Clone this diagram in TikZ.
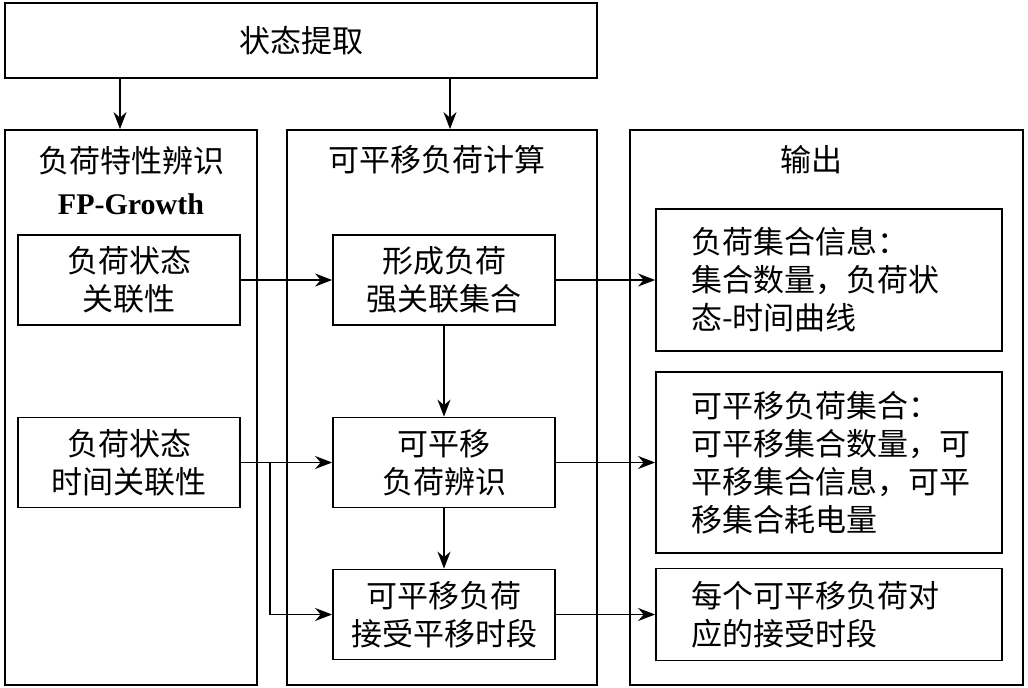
\documentclass[tikz,border=0pt]{standalone}
\usepackage{fontspec}
\setmainfont{Noto Sans CJK SC}
\newfontfamily\latinfont{Liberation Serif}
\usetikzlibrary{arrows.meta,positioning}

\begin{document}
\begin{tikzpicture}[>={Stealth[length=17pt,width=13pt]},x=1pt,y=-1pt,line width=1.8pt,
 every node/.style={font=\fontsize{31pt}{38pt}\selectfont},
 panel/.style={draw,minimum width=#1,minimum height=555pt,inner sep=0pt},
 box/.style={draw,minimum width=222pt,minimum height=90pt,align=center,inner sep=0pt},
 outbox/.style={draw,minimum width=346pt,minimum height=#1,text width=276pt,align=left,inner sep=0pt}]
\useasboundingbox (0,0) rectangle (1028,688);
\node[draw,minimum width=592pt,minimum height=75pt] (extract) at (301,40.5) {状态提取\hspace{22pt}};
\node[panel=252pt] (featpanel) at (131,407.5) {};
\node[panel=310pt] (calcpanel) at (442,407.5) {};
\node[panel=393pt] (outpanel) at (826.5,407.5) {};
\node[align=center] (feattitle) at (131,181) {负荷特性辨识\\[4pt]{\latinfont\bfseries\fontsize{30pt}{36pt}\selectfont FP-Growth}};
\node (calctitle) at (437,160) {可平移负荷计算};
\node (outtitle) at (811,160) {输出};
\node[box] (stcorr) at (129,280) {负荷状态\\关联性};
\node[box] (timecorr) at (129,462.5) {负荷状态\\时间关联性};
\node[box] (strongset) at (444,280) {形成负荷\\强关联集合};
\node[box] (shiftid) at (444,462.5) {可平移\\负荷辨识};
\node[box] (period) at (444,614.5) {可平移负荷\\接受平移时段};
\node[outbox=142pt] (setinfo) at (829,280) {负荷集合信息：\\集合数量，负荷状\\态-时间曲线};
\node[outbox=181pt] (shiftinfo) at (829,462.5) {可平移负荷集合：\\可平移集合数量，可\\平移集合信息，可平\\移集合耗电量};
\node[outbox=92pt] (perinfo) at (829,614.5) {每个可平移负荷对\\应的接受时段};
\coordinate (split) at (270,462.5);
\draw[->] ([xshift=-181pt]extract.south) -- ([xshift=-11pt]featpanel.north);
\draw[->] ([xshift=149pt]extract.south) -- ([xshift=8pt]calcpanel.north);
\draw[->] (stcorr) -- (strongset);
\draw[->] (timecorr) -- (shiftid);
\draw[->] (split) |- (period);
\draw[->] (strongset) -- (shiftid);
\draw[->] (shiftid) -- (period);
\draw[->] (strongset) -- (setinfo);
\draw[->] (shiftid) -- (shiftinfo);
\draw[->] (period) -- (perinfo);
\end{tikzpicture}
\end{document}
